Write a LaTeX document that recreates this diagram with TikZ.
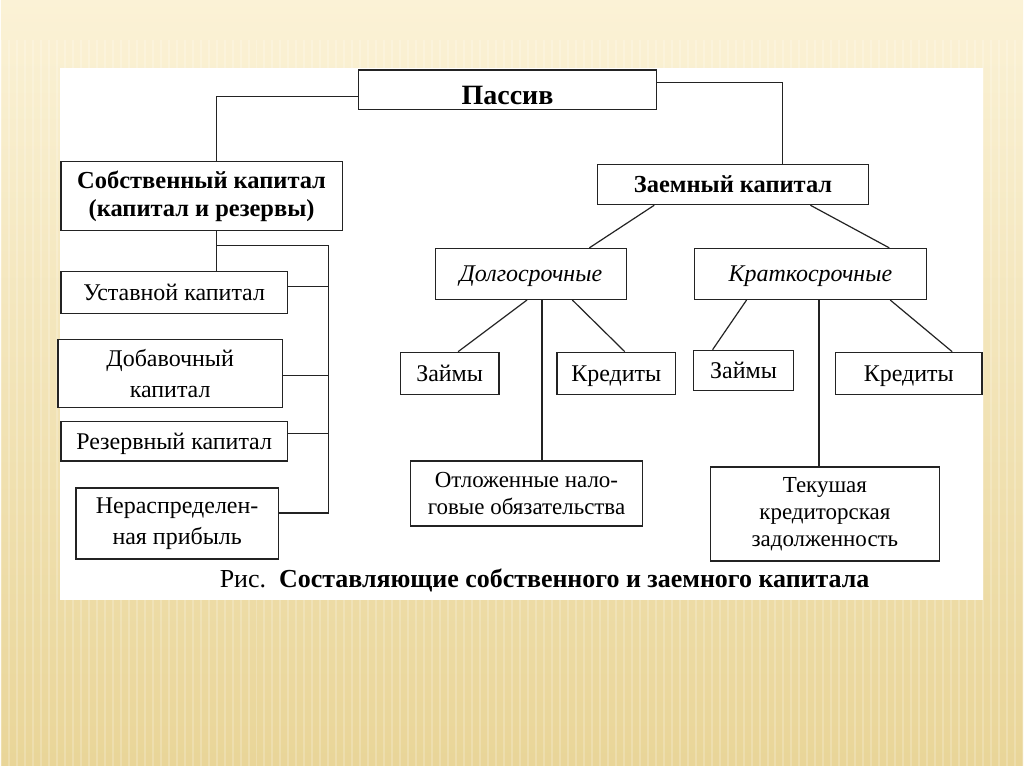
\documentclass[tikz,border=0pt]{standalone}
\usepackage{fontspec}
\setmainfont{Liberation Serif}
\usetikzlibrary{positioning}
\definecolor{slidetop}{RGB}{251,242,214}
\definecolor{slidebot}{RGB}{233,213,152}
\definecolor{ink}{RGB}{35,35,35}
\tikzset{
  box/.style={draw=ink, line width=1.3pt, fill=white, inner sep=0pt, align=center,
    font=\fontsize{24}{31}\selectfont},
  oneline/.style={text height=16pt, text depth=0pt},
  headbox/.style={box, font=\fontsize{24.5}{28}\selectfont\bfseries},
  termbox/.style={box, oneline, font=\fontsize{24}{28}\selectfont\itshape},
  link/.style={draw=ink, line width=1.2pt},
}
\begin{document}
\begin{tikzpicture}[x=1pt, y=-1pt]
% slide background
\shade[top color=slidetop, bottom color=slidebot] (0,0) rectangle (1024,767);
\foreach \i in {0,8,...,1024} {
    \draw[white, opacity=0.2, line width=2pt] (\i,40) -- (\i,767);
}
\useasboundingbox (0,0) rectangle (1024,767);
\fill[white] (59,68) rectangle (984,601);

% top level
\node[headbox, text height=30pt, text depth=0pt, minimum width=299, minimum height=40, font=\fontsize{28}{32}\selectfont\bfseries] (pas) at (507.5,90) {Пассив};
\node[headbox, minimum width=282, minimum height=69] (own) at (201,196.5) {Собственный капитал\\(капитал и резервы)};
\node[headbox, oneline, minimum width=271, minimum height=40] (borr) at (733.5,185) {Заемный капитал};

% own capital
\node[box, oneline, minimum width=227, minimum height=42] (ust) at (173.5,293) {Уставной капитал};
\node[box, minimum width=225, minimum height=68] (dob) at (169.5,374) {Добавочный\\капитал};
\node[box, oneline, minimum width=227, minimum height=40] (rez) at (173.5,442) {Резервный капитал};
\node[box, minimum width=203, minimum height=71] (ner) at (176.5,524.5) {Нераспределен-\\ная прибыль};

% borrowed capital
\node[termbox, minimum width=192, minimum height=51] (long) at (531,274.5) {Долгосрочные};
\node[termbox, minimum width=232, minimum height=51] (short) at (811,274.5) {Краткосрочные};
\node[box, oneline, minimum width=99, minimum height=42] (zl) at (449.5,374) {Займы};
\node[box, oneline, minimum width=119, minimum height=42] (kl) at (616.5,374) {Кредиты};
\node[box, oneline, minimum width=100, minimum height=40] (zs) at (744,371) {Займы};
\node[box, oneline, minimum width=147, minimum height=42] (ks) at (909.5,374) {Кредиты};
\node[box, minimum width=233, minimum height=65, font=\fontsize{23}{27}\selectfont] (otl) at (526.5,494.5) {Отложенные нало-\\говые обязательства};
\node[box, minimum width=229, minimum height=94, font=\fontsize{23}{27}\selectfont] (tek) at (825.5,515) {Текушая\\кредиторская\\задолженность};

% connectors, left
\coordinate (lt) at (216,246);
\coordinate (lr) at (328,246);
\draw[link] ([yshift=-7pt]pas.west) -| (lt |- own.north);
\draw[link] (lt |- own.south) -- (lt |- ust.north);
\draw[link] ([yshift=10.5pt]ner.east) -| (lr) -- (lt);
\draw[link] ([yshift=6pt]ust.east) -| (lr);
\draw[link] ([yshift=-2pt]dob.east) -| (lr);
\draw[link] ([yshift=8pt]rez.east) -| (lr);

% connectors, right
\draw[link] ([yshift=7pt]pas.east) -| ([xshift=49.5pt]borr.north);
\draw[link] ([xshift=-79pt]borr.south) -- ([xshift=58.5pt]long.north);
\draw[link] ([xshift=77.5pt]borr.south) -- ([xshift=79pt]short.north);
\draw[link] ([xshift=-4pt]long.south) -- ([xshift=8.5pt]zl.north);
\draw[link] ([xshift=41.5pt]long.south) -- ([xshift=8.5pt]kl.north);
\draw[link] ([xshift=11pt]long.south) -- ([xshift=15.5pt]otl.north);
\draw[link] ([xshift=-64pt]short.south) -- ([xshift=-31pt]zs.north);
\draw[link] ([xshift=80pt]short.south) -- ([xshift=43.5pt]ks.north);
\draw[link] ([xshift=8.5pt]short.south) -- ([xshift=-6pt]tek.north);

% caption
\node[anchor=base west, inner sep=0pt, font=\fontsize{26}{30}\selectfont] (cap) at (219,589) {Рис.\enspace\textbf{Составляющие собственного и заемного капитала}};
\end{tikzpicture}
\end{document}
